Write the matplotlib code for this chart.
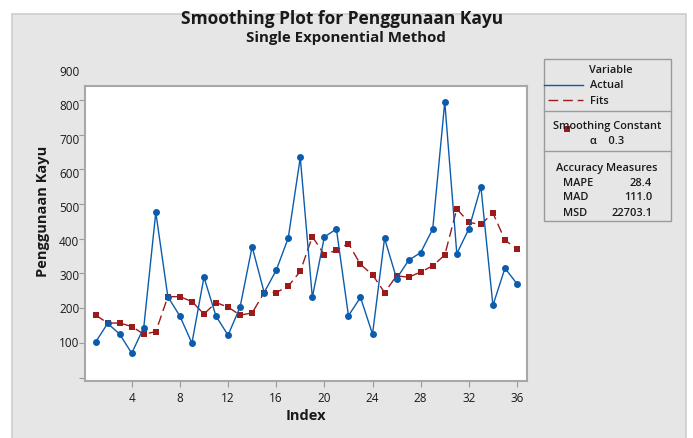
import matplotlib
matplotlib.use('Agg')
import matplotlib.pyplot as plt
from matplotlib.patches import Rectangle
from matplotlib.lines import Line2D
import matplotlib.transforms as mtransforms

plt.rcParams['font.family'] = ['Open Sans', 'DejaVu Sans']

# values
index = list(range(1, 37))
actual = [102, 156, 125, 70, 144, 476, 233, 177, 99, 289, 177, 122,
          203, 377, 245, 309, 402, 634, 231, 405, 428, 178, 231, 125,
          401, 285, 338, 360, 428, 794, 357, 428, 550, 208, 315, 270]
fits = [180, 157, 157, 147, 125, 132, 233, 233, 219, 183, 216, 203,
        180, 186, 245, 245, 263, 306, 406, 354, 367, 386, 326, 296,
        245, 293, 289, 304, 322, 353, 486, 447, 441, 474, 396, 370]
ytick_vals = list(range(0, 900, 100))
ylabel_vals = list(range(100, 1000, 100))
xtick_vals = list(range(4, 40, 4))
alpha_const = 0.3
measures = [('MAPE', '28.4'), ('MAD', '111.0'), ('MSD', '22703.1')]

W, H = 693, 439
blue = '#0b5cad'
red = '#9c1a1a'
txt = '#1a1a1a'

def fx(x):
    return x / W

def fy(y):
    return 1 - y / H

fig = plt.figure(figsize=(W / 100, H / 100), dpi=100)
fig.patch.set_facecolor('white')

# gray panel behind everything
fig.patches.append(Rectangle((fx(12), fy(445)), fx(686) - fx(12), fy(15) - fy(445),
                             transform=fig.transFigure, facecolor='#e6e6e6',
                             edgecolor='#cdcdcd', linewidth=1.2, zorder=-10))

ax = fig.add_axes([fx(85), fy(382), fx(527) - fx(85), fy(87) - fy(382)])
ax.set_facecolor('white')

ax.plot(index, actual, color=blue, linewidth=1.0, marker='o', markersize=5.0,
        markeredgewidth=0, zorder=3)
ax.plot(index, fits, color=red, linewidth=1.0, linestyle=(0, (7, 3.5)), marker='s',
        markersize=4.6, markeredgewidth=0, zorder=2)

ax.set_xlim(0.12, 36.83)
ax.set_ylim(-10, 840)

ax.set_xticks(xtick_vals)
ax.set_xticklabels([str(v) for v in xtick_vals], fontsize=8.5, color=txt)
ax.set_yticks(ytick_vals)
ax.set_yticklabels([])
ax.tick_params(axis='both', direction='out', length=4, width=0.8, color='#9a9a9a', pad=3)

# y tick labels sit a little off the tick marks in the reference
trans = mtransforms.blended_transform_factory(ax.transAxes, ax.transData)
for v in ylabel_vals:
    ypos = 100 + (v - 100) * 0.977
    ax.text(-0.013, ypos, str(v), transform=trans, ha='right', va='center',
            fontsize=8.5, color=txt, clip_on=False)

for s in ax.spines.values():
    s.set_color('#a8a8a8')
    s.set_linewidth(1.5)

fig.text(fx(342), fy(19), 'Smoothing Plot for Penggunaan Kayu', ha='center', va='center',
         fontsize=12.5, fontweight='bold', color=txt)
fig.text(fx(346), fy(38), 'Single Exponential Method', ha='center', va='center',
         fontsize=10.8, fontweight='bold', color=txt)
fig.text(fx(306), fy(416), 'Index', ha='center', va='center', fontsize=10.5,
         fontweight='bold', color=txt)
fig.text(fx(43), fy(211), 'Penggunaan Kayu', ha='center', va='center', rotation=90,
         fontsize=10.5, fontweight='bold', color=txt)

# legend / info box
bx0, bx1, by0, by1 = 544, 671, 60, 222
fig.patches.append(Rectangle((fx(bx0), fy(by1)), fx(bx1) - fx(bx0), fy(by0) - fy(by1),
                             transform=fig.transFigure, facecolor='#e6e6e6',
                             edgecolor='#9a9a9a', linewidth=1.0, zorder=1))
for yy in (112, 152):
    fig.add_artist(Line2D([fx(bx0), fx(bx1)], [fy(yy), fy(yy)], color='#9a9a9a',
                          linewidth=1.0, transform=fig.transFigure))

fs = 7.9
fig.text(fx(611), fy(71), 'Variable', ha='center', va='center', fontsize=fs,
         fontweight='semibold', color=txt)
fig.add_artist(Line2D([fx(544), fx(583)], [fy(86), fy(86)], color=blue, linewidth=1.0,
                      transform=fig.transFigure))
fig.text(fx(590), fy(86), 'Actual', ha='left', va='center', fontsize=fs,
         fontweight='semibold', color=txt)
fig.add_artist(Line2D([fx(548), fx(583)], [fy(101), fy(101)], color=red, linewidth=1.0,
                      linestyle=(0, (7, 3.5)), transform=fig.transFigure))
fig.text(fx(590), fy(101), 'Fits', ha='left', va='center', fontsize=fs,
         fontweight='semibold', color=txt)

fig.text(fx(607), fy(127), 'Smoothing Constant', ha='center', va='center', fontsize=fs,
         fontweight='semibold', color=txt)
fig.add_artist(Line2D([fx(567)], [fy(130)], color=red, marker='s', markersize=4.6,
                      markeredgewidth=0, linestyle='none', transform=fig.transFigure))
fig.text(fx(607), fy(141), '\u03b1    ' + str(alpha_const), ha='center', va='center',
         fontsize=fs, fontweight='semibold', color=txt)

fig.text(fx(607), fy(168), 'Accuracy Measures', ha='center', va='center', fontsize=fs,
         fontweight='semibold', color=txt)
for i, (name, val) in enumerate(measures):
    yy = 183 + i * 15
    fig.text(fx(563), fy(yy), name, ha='left', va='center', fontsize=fs,
             fontweight='semibold', color=txt)
    fig.text(fx(652), fy(yy), val, ha='right', va='center', fontsize=fs,
             fontweight='semibold', color=txt)

fig.savefig('out.png', dpi=100)
